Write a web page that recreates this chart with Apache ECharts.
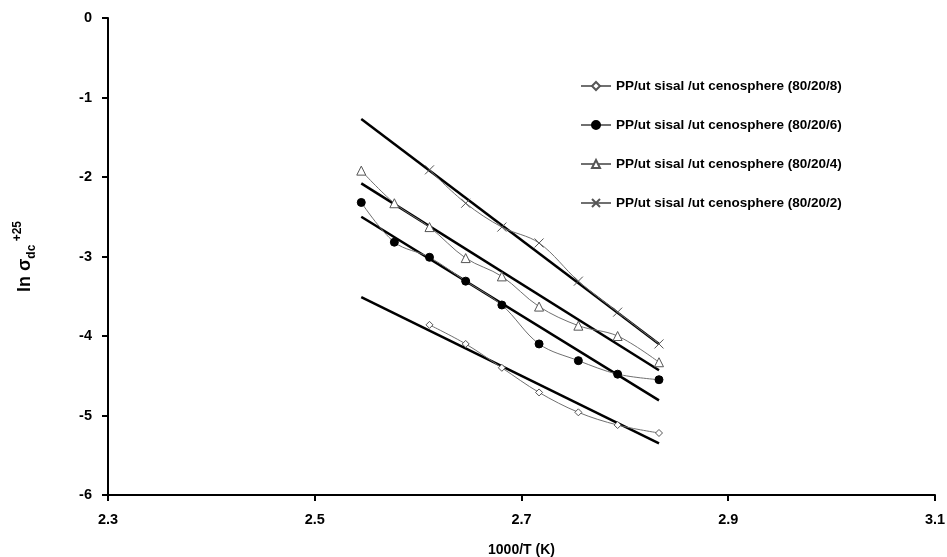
<!DOCTYPE html>
<html>
<head>
<meta charset="utf-8">
<script src="https://cdn.jsdelivr.net/npm/echarts@6/dist/echarts.min.js"></script>
<style>
html,body{margin:0;padding:0;background:#fff;}
#chart{width:947px;height:557px;}
</style>
</head>
<body>
<div id="chart"></div>
<script>
// 1000/T values (T = 393 ... 353 K)
var xVals = [2.545, 2.577, 2.611, 2.646, 2.681, 2.717, 2.755, 2.793, 2.833];
var seriesNames = [
  'PP/ut sisal /ut cenosphere (80/20/8)',
  'PP/ut sisal /ut cenosphere (80/20/6)',
  'PP/ut sisal /ut cenosphere (80/20/4)',
  'PP/ut sisal /ut cenosphere (80/20/2)'
];
// measured values (null = no point)
var s8 = [null, null, -3.86, -4.10, -4.40, -4.71, -4.96, -5.12, -5.22];
var s6 = [-2.32, -2.82, -3.01, -3.31, -3.61, -4.10, -4.31, -4.48, -4.55];
var s4 = [-1.92, -2.33, -2.63, -3.02, -3.25, -3.63, -3.87, -4.00, -4.33];
var s2 = [null, null, -1.91, -2.33, -2.63, -2.83, -3.31, -3.70, -4.10];
// linear fit lines (start/end at first/last x)
var fitX = [2.545, 2.833];
var fit8 = [-3.51, -5.35];
var fit6 = [-2.50, -4.81];
var fit4 = [-2.08, -4.43];
var fit2 = [-1.27, -4.10];
var xTicks = [2.3, 2.5, 2.7, 2.9, 3.1];

function pairs(xs, ys){
  var out = [];
  for (var i=0;i<xs.length;i++){ if (ys[i] !== null) out.push([xs[i], ys[i]]); }
  return out;
}
var crossPath = 'path://M0,0L10,10M10,0L0,10';
var font = 'Liberation Sans, Arial, sans-serif';

function dataSeries(name, ys, symbol, size, fill, stroke){
  return {
    name: name, type: 'line', data: pairs(xVals, ys), smooth: 0.35,
    symbol: symbol, symbolSize: size, showSymbol: true,
    lineStyle: {color: '#707070', width: 1},
    itemStyle: {color: fill, borderColor: stroke, borderWidth: 1},
    z: 3
  };
}
function fitSeries(ys){
  return {
    type: 'line', data: pairs(fitX, ys), symbol: 'none', silent: true,
    lineStyle: {color: '#000', width: 2.5}, z: 2
  };
}

var chart = echarts.init(document.getElementById('chart'));
chart.setOption({
  animation: false,
  backgroundColor: '#fff',
  grid: {left: 108, right: 12, top: 18, bottom: 62, containLabel: false, outerBoundsMode: 'none'},
  legend: {
    data: seriesNames, orient: 'vertical', left: 575, top: 74,
    itemGap: 25, itemWidth: 30, itemHeight: 10,
    textStyle: {fontFamily: font, fontSize: 13.5, fontWeight: 'bold', color: '#000'}
  },
  xAxis: {
    type: 'value', min: 2.3, max: 3.1,
    name: '1000/T (K)', nameLocation: 'middle', nameGap: 48,
    nameTextStyle: {fontFamily: font, fontSize: 14, fontWeight: 'bold', color: '#000'},
    axisLine: {show: true, onZero: false, lineStyle: {color: '#000', width: 2}},
    axisTick: {show: true, length: 6, lineStyle: {color: '#000', width: 2}, customValues: xTicks},
    axisLabel: {customValues: xTicks, margin: 17, fontFamily: font, fontSize: 14.5, fontWeight: 'bold', color: '#000',
      formatter: function(v){ return v.toFixed(1); }},
    splitLine: {show: false}
  },
  yAxis: {
    type: 'value', min: -6, max: 0, interval: 1,
    name: '{a|ln σ}{b|dc}{c| +25}', nameLocation: 'middle', nameGap: 70, nameRotate: 90,
    nameTextStyle: {
      fontFamily: font, color: '#000',
      rich: {
        a: {fontFamily: font, fontSize: 18, fontWeight: 'bold', color: '#000', lineHeight: 26},
        b: {fontFamily: font, fontSize: 12, fontWeight: 'bold', color: '#000', verticalAlign: 'bottom', lineHeight: 26},
        c: {fontFamily: font, fontSize: 12, fontWeight: 'bold', color: '#000', verticalAlign: 'top', lineHeight: 26}
      }
    },
    axisLine: {show: true, onZero: false, lineStyle: {color: '#000', width: 2}},
    axisTick: {show: true, length: 6, lineStyle: {color: '#000', width: 2}},
    axisLabel: {margin: 16, fontFamily: font, fontSize: 14.5, fontWeight: 'bold', color: '#000'},
    splitLine: {show: false}
  },
  series: [
    fitSeries(fit8), fitSeries(fit6), fitSeries(fit4), fitSeries(fit2),
    dataSeries(seriesNames[0], s8, 'diamond', 7, '#fff', '#555'),
    dataSeries(seriesNames[1], s6, 'circle', 8, '#000', '#000'),
    dataSeries(seriesNames[2], s4, 'triangle', 9, '#fff', '#555'),
    dataSeries(seriesNames[3], s2, crossPath, 9, 'none', '#555')
  ]
});
</script>
</body>
</html>
